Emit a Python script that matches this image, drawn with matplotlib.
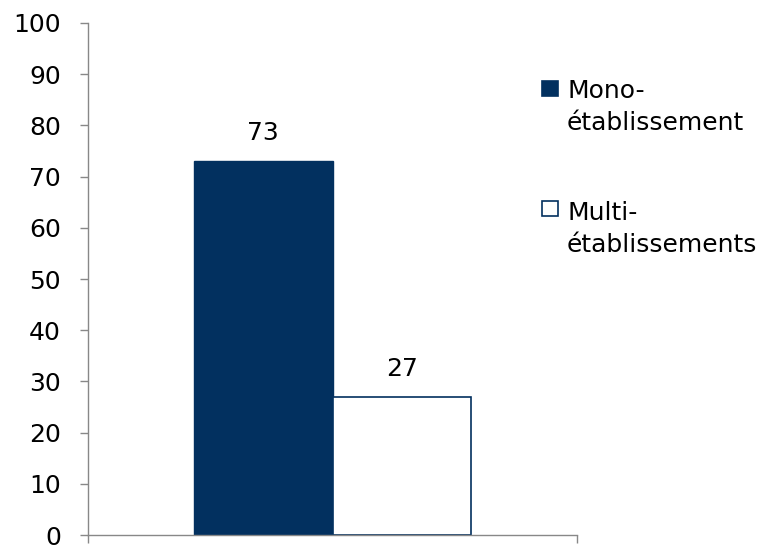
import numpy as np
import matplotlib.pyplot as plt
from matplotlib.patches import Rectangle

labels = ['Mono-\nétablissement', 'Multi-\nétablissements']
values = [73, 27]
navy = '#02305f'
gray = '#888888'

plt.rcParams['font.family'] = 'DejaVu Sans'
fig = plt.figure(figsize=(7.8, 5.45), dpi=100)
ax = fig.add_axes([0.1128, 0.0183, 0.627, 0.9395])

w = 0.283
xs = [-w/2, w/2]
ax.bar(xs[0], values[0], w, color=navy, edgecolor=navy, linewidth=1)
ax.bar(xs[1], values[1], w, color='white', edgecolor=navy, linewidth=1.2)
for x, v in zip(xs, values):
    ax.text(x, v + 3.1, str(v), ha='center', va='bottom', fontsize=18)

ax.set_xlim(-0.5, 0.5)
ax.set_ylim(0, 100)
ax.set_yticks(np.arange(0, 101, 10))
ax.set_xticks([-0.5, 0.5])
ax.set_xticklabels(['', ''])
for s in ['top', 'right']:
    ax.spines[s].set_visible(False)
for s in ['left', 'bottom']:
    ax.spines[s].set_color(gray)
    ax.spines[s].set_linewidth(1.0)
ax.tick_params(axis='both', color=gray, length=6, width=1.0, labelsize=18)
ax.tick_params(axis='y', pad=13.5)

# legend, handle aligned with first line of each label
faces = [navy, 'white']
box_top = [81, 201]    # top of square, pixels from top
last_base = [130, 252]  # baseline of second line
for lab, fc, bt, lb in zip(labels, faces, box_top, last_base):
    fig.add_artist(Rectangle((542 / 780, 1 - (bt + 15) / 545), 16 / 780, 15 / 545,
                             transform=fig.transFigure, facecolor=fc,
                             edgecolor=navy, linewidth=1.2))
    fig.text(567 / 780, 1 - lb / 545, lab, ha='left', va='baseline',
             fontsize=18, linespacing=1.4)

fig.savefig('out.png', dpi=100)
